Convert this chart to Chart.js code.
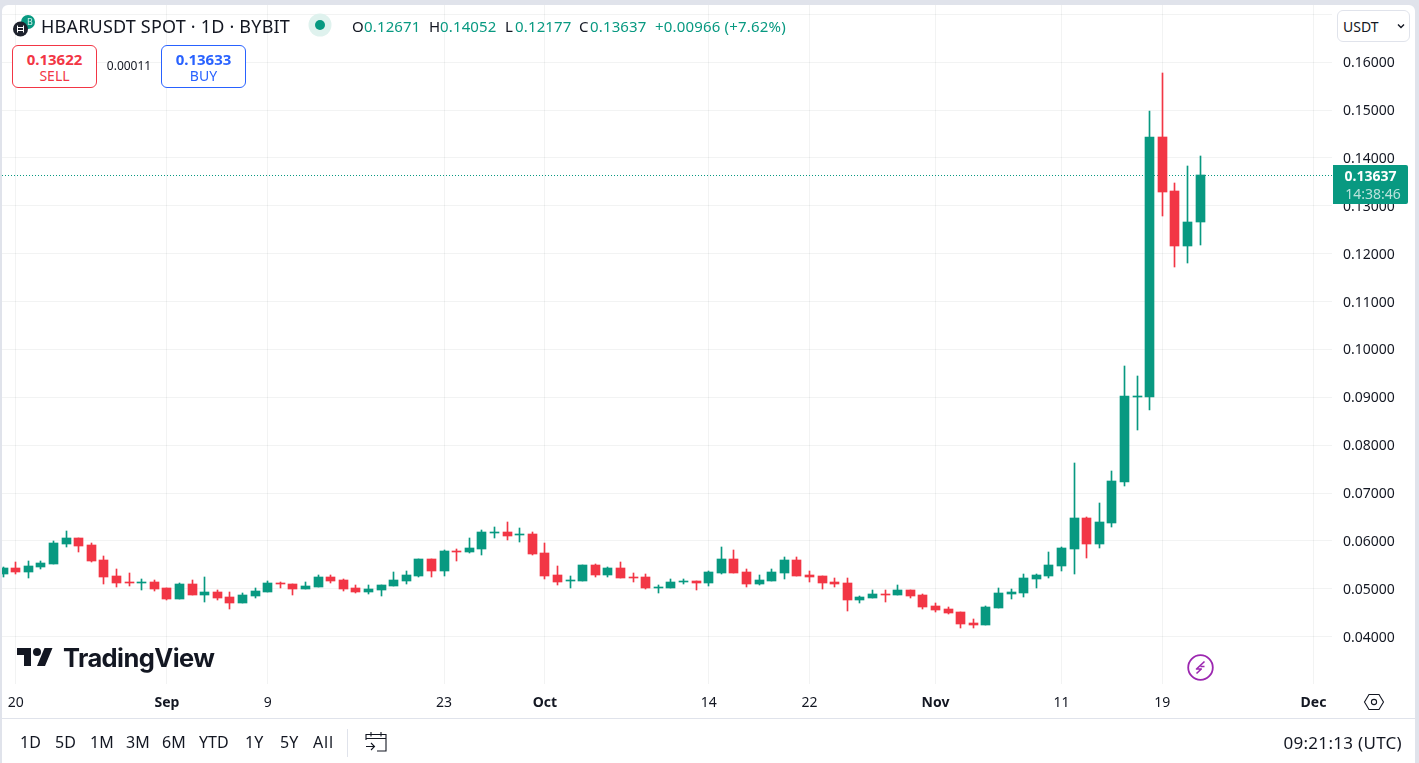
<!DOCTYPE html>
<html>
<head>
<meta charset="utf-8">
<title>HBARUSDT</title>
<script src="https://cdn.jsdelivr.net/npm/chart.js@4"></script>
<style>
html,body{margin:0;padding:0;width:1419px;height:763px;overflow:hidden;background:#e0e3eb;font-family:"Noto Sans",sans-serif;color:#131722}
#panel{position:absolute;left:2px;top:5px;width:1413px;height:758px;background:#fff;border-radius:6px 6px 0 0}
#c{position:absolute;left:0;top:0;width:1419px;height:763px}
.t{position:absolute;white-space:nowrap;transform:translateY(-50%);line-height:1}
.g{color:#089981}
.box{position:absolute;top:45px;width:83px;height:41px;border-radius:6px;background:#fff}
.c{transform:translate(-50%,-50%)}
svg{position:absolute;overflow:visible}
</style>
</head>
<body>
<div id="panel"></div>
<canvas id="c" width="1419" height="763"></canvas>

<!-- header -->
<svg style="left:0;top:0" width="60" height="50">
  <circle cx="28" cy="22" r="7" fill="#089981"/>
  <text x="30" y="25" font-size="9" fill="#cfeee7" text-anchor="middle" font-family="Noto Sans">B</text>
  <circle cx="20.5" cy="29" r="7.5" fill="#1e222d"/>
  <path d="M17.5 25.5v7M23.5 25.5v7M17.5 27.5h6M17.5 30.5h6" stroke="#fff" stroke-width="1" fill="none"/>
</svg>
<div class="t" style="left:41px;top:26px;font-size:18px;letter-spacing:.2px">HBARUSDT SPOT · 1D · BYBIT</div>
<svg style="left:0;top:0" width="340" height="40">
  <circle cx="320" cy="25" r="11.5" fill="#dff2ee"/>
  <circle cx="320" cy="25" r="5" fill="#089981"/>
</svg>
<div class="t" style="left:352px;top:26px;font-size:15px">O</div><div class="t g" style="left:364px;top:26px;font-size:15px;letter-spacing:.15px">0.12671</div>
<div class="t" style="left:429px;top:26px;font-size:15px">H</div><div class="t g" style="left:440px;top:26px;font-size:15px;letter-spacing:.15px">0.14052</div>
<div class="t" style="left:505px;top:26px;font-size:15px">L</div><div class="t g" style="left:515px;top:26px;font-size:15px;letter-spacing:.15px">0.12177</div>
<div class="t" style="left:579px;top:26px;font-size:15px">C</div><div class="t g" style="left:590px;top:26px;font-size:15px;letter-spacing:.15px">0.13637</div>
<div class="t g" style="left:655px;top:26px;font-size:15px;letter-spacing:.18px">+0.00966 (+7.62%)</div>

<div class="box" style="left:12px;border:1px solid #f23645"></div>
<div class="t c" style="left:54.5px;top:59px;font-size:15px;font-weight:700;color:#f23645">0.13622</div>
<div class="t c" style="left:54.5px;top:76px;font-size:14px;color:#f23645">SELL</div>
<div class="t c" style="left:129px;top:66px;font-size:12px">0.00011</div>
<div class="box" style="left:161px;border:1px solid #2962ff"></div>
<div class="t c" style="left:203.5px;top:59px;font-size:15px;font-weight:700;color:#2962ff">0.13633</div>
<div class="t c" style="left:203.5px;top:76px;font-size:14px;color:#2962ff">BUY</div>

<!-- currency button -->
<div style="position:absolute;left:1337px;top:10px;width:71px;height:30px;border:1px solid #e0e3eb;border-radius:6px;background:#fff"></div>
<div class="t" style="left:1343px;top:26.5px;font-size:14px">USDT</div>
<svg style="left:1397px;top:23px" width="8" height="6"><path d="M1 1.5l3 3 3-3" stroke="#131722" stroke-width="1.4" fill="none"/></svg>

<!-- watermark logo -->
<svg style="left:17px;top:644px" width="36" height="28" viewBox="0 0 36 28"><path d="M14 22H7V11H0V4h14v18zM28 22h-8l7.5-18h8L28 22z" fill="#131722"/><circle cx="20" cy="8" r="4" fill="#131722"/></svg>
<div class="t" style="left:63px;top:658px;font-size:25.5px;font-weight:700;font-family:Inter,sans-serif;letter-spacing:-.6px">TradingView</div>

<!-- flash icon -->
<svg style="left:1187px;top:654px" width="27" height="27">
  <circle cx="13.5" cy="13.5" r="12.3" fill="#fff" stroke="#9c27b0" stroke-width="1.8"/>
  <path d="M17.5 7.5L9.5 15h4.8L9.5 19.5M17.5 12.5h-4" stroke="#9c27b0" stroke-width="1.6" fill="none" stroke-linejoin="round"/>
</svg>

<!-- axis settings hexagon -->
<svg style="left:1364px;top:693px" width="20" height="18">
  <path d="M5 1.5h10l4.5 7.5-4.5 7.5H5L.5 9z" fill="none" stroke="#131722" stroke-width="1.1"/>
  <circle cx="10" cy="9" r="2.6" fill="none" stroke="#131722" stroke-width="1.1"/>
</svg>

<!-- bottom toolbar -->
<div style="position:absolute;left:2px;top:718px;width:1413px;height:1px;background:#e0e3eb"></div>
<div class="t" style="left:20px;top:742px;font-size:16px">1D</div>
<div class="t" style="left:55px;top:742px;font-size:16px">5D</div>
<div class="t" style="left:90px;top:742px;font-size:16px">1M</div>
<div class="t" style="left:126px;top:742px;font-size:16px">3M</div>
<div class="t" style="left:162px;top:742px;font-size:16px">6M</div>
<div class="t" style="left:199px;top:742px;font-size:16px">YTD</div>
<div class="t" style="left:245px;top:742px;font-size:16px">1Y</div>
<div class="t" style="left:280px;top:742px;font-size:16px">5Y</div>
<div class="t" style="left:313px;top:742px;font-size:16px;letter-spacing:.8px">All</div>
<div style="position:absolute;left:347px;top:729px;width:1px;height:28px;background:#e0e3eb"></div>
<svg style="left:364px;top:729px" width="25" height="24">
  <path d="M2 11V5.5h20V22H13M2 9.5h20M7 3v4.5M17 3v4.5M2 17.5h8M7 14l3.5 3.5L7 21" fill="none" stroke="#131722" stroke-width="1.1"/>
</svg>
<div class="t" style="right:17px;top:742px;font-size:17px;letter-spacing:.3px">09:21:13 (UTC)</div>

<script>
// Daily candles, 19 Aug – 22 Nov (day 0 = 20 Aug)
const firstDay = -1;
const opens = [.05310,.05435,.05351,.05456,.05518,.05936,.06062,.05916,.05602,.05268,.05142,.05121,.05142,
.05017,.04787,.05100,.04871,.04933,.04829,.04703,.04850,.04933,.05121,.05100,.04996,.05038,.05247,.05184,.05017,.04933,.04975,.05059,.05163,.05268,.05623,.05372,.05790,.05769,.05832,.06166,.06187,.06124,.06145,
.05748,.05289,.05163,.05163,.05498,.05289,.05435,.05247,.05247,.05017,.05017,.05142,.05163,.05121,.05330,.05623,.05351,.05100,.05163,.05330,.05602,.05289,.05268,.05142,.05121,.04766,.04808,.04891,.04871,.04975,.04871,
.04641,.04578,.04515,.04285,.04244,.04599,.04891,.04912,.05205,.05268,.05477,.05830,.06478,.05935,.06373,.07230,.09007,.09004,.14438,.13309,.12160,.12671];
const highs = [.05456,.05560,.05581,.05581,.05999,.06208,.06062,.05957,.05686,.05414,.05330,.05205,.05184,
.05017,.05121,.05184,.05247,.04975,.04933,.04912,.05017,.05163,.05142,.05100,.05142,.05289,.05289,.05205,.05080,.05080,.05080,.05351,.05372,.05623,.05623,.05811,.05832,.06062,.06229,.06292,.06396,.06271,.06187,
.05957,.05477,.05268,.05498,.05519,.05456,.05560,.05330,.05309,.05080,.05205,.05205,.05163,.05372,.05874,.05811,.05414,.05289,.05414,.05665,.05665,.05372,.05268,.05226,.05226,.04850,.04975,.04975,.05080,.04975,.04891,
.04703,.04620,.04515,.04369,.04641,.05017,.04996,.05309,.05309,.05769,.05874,.07627,.06499,.06791,.07460,.09655,.09446,.14981,.15775,.13476,.13832,.14052];
const lows = [.05247,.05310,.05226,.05414,.05518,.05874,.05769,.05560,.05100,.05038,.05059,.04975,.04954,
.04766,.04787,.04871,.04724,.04766,.04578,.04703,.04808,.04933,.05017,.04871,.04996,.05038,.05121,.04954,.04912,.04891,.04850,.05059,.05100,.05247,.05247,.05268,.05581,.05748,.05707,.06062,.06020,.05978,.05707,
.05205,.05080,.05017,.05163,.05247,.05247,.05226,.05142,.04996,.04912,.05017,.05100,.04975,.05059,.05309,.05330,.05038,.05080,.05163,.05205,.05268,.05142,.04996,.05038,.04536,.04703,.04808,.04724,.04871,.04808,.04578,
.04515,.04473,.04181,.04181,.04244,.04599,.04787,.04829,.05017,.05226,.05372,.05307,.05642,.05851,.06290,.07147,.08317,.08736,.12787,.11721,.11804,.12177];
const closes = [.05435,.05351,.05477,.05539,.05957,.06062,.05895,.05581,.05247,.05121,.05121,.05142,.04996,
.04787,.05100,.04871,.04933,.04808,.04703,.04871,.04954,.05121,.05100,.04996,.05059,.05247,.05163,.04996,.04933,.04996,.05080,.05184,.05289,.05623,.05372,.05790,.05769,.05853,.06187,.06187,.06104,.06145,.05727,
.05268,.05142,.05184,.05498,.05289,.05435,.05226,.05226,.05017,.05038,.05142,.05163,.05121,.05351,.05623,.05330,.05100,.05184,.05351,.05602,.05268,.05247,.05121,.05100,.04766,.04829,.04891,.04871,.04975,.04850,.04620,
.04557,.04494,.04264,.04244,.04620,.04912,.04933,.05226,.05289,.05498,.05853,.06478,.05935,.06394,.07251,.09028,.09028,.14438,.13288,.12160,.12671,.13637];

const tickDays   = [0,12,20,34,42,55,63,73,83,91,103];
const tickLabels = ['20','Sep','9','23','Oct','14','22','Nov','11','19','Dec'];
const monthLabels = ['Sep','Oct','Nov','Dec'];
const priceTicks = [.04,.05,.06,.07,.08,.09,.10,.11,.12,.13,.14,.15,.16,.17];
const lastPrice = 0.13637;
const lastPriceLabel = '0.13637';
const countdownLabel = '14:38:46';

const UP = '#089981', DOWN = '#f23645';
const FONT = '"Noto Sans",sans-serif';
const colors = closes.map((c,i)=> c>=opens[i] ? UP : DOWN);
const xs = closes.map((_,i)=> firstDay+i);

const crisp = {
  id:'crisp',
  afterDatasetsUpdate(chart){
    chart.data.datasets.forEach((ds,i)=>{
      chart.getDatasetMeta(i).data.forEach(el=>{
        el.x = Math.floor(el.x)+.5;
        let top = Math.round(Math.min(el.y,el.base)), bot = Math.round(Math.max(el.y,el.base));
        if(bot-top<1) bot = top+1;
        el.y = top; el.base = bot;
      });
    });
  }
};
const lastPriceMark = {
  id:'lastPriceMark',
  beforeDatasetsDraw(chart){
    const {ctx,chartArea:a,scales:{y}} = chart;
    const py = Math.floor(y.getPixelForValue(lastPrice))+.5;
    ctx.save();
    ctx.strokeStyle = UP; ctx.lineWidth = 1; ctx.setLineDash([1,2]);
    ctx.beginPath(); ctx.moveTo(a.left,py); ctx.lineTo(a.right,py); ctx.stroke();
    ctx.restore();
  },
  afterDraw(chart){
    const {ctx,chartArea:a,scales:{y}} = chart;
    const py = y.getPixelForValue(lastPrice);
    const top = Math.round(py-10);
    ctx.save();
    ctx.fillStyle = UP;
    ctx.beginPath(); ctx.roundRect(a.right+1,top,75,39,[0,2,2,0]); ctx.fill();
    ctx.textBaseline = 'middle'; ctx.textAlign = 'center';
    ctx.fillStyle = '#fff'; ctx.font = '700 14px '+FONT;
    ctx.fillText(lastPriceLabel,a.right+38.5,top+12);
    ctx.fillStyle = 'rgba(255,255,255,.72)'; ctx.font = '14px '+FONT;
    ctx.fillText(countdownLabel,a.right+41,top+30);
    ctx.restore();
  }
};

new Chart(document.getElementById('c'),{
  type:'bar',
  plugins:[crisp,lastPriceMark],
  data:{datasets:[
    {label:'wick',grouped:false,order:2,barThickness:1,backgroundColor:colors,
     data:xs.map((x,i)=>({x,y:[lows[i],highs[i]]}))},
    {label:'body',grouped:false,order:1,barThickness:9,backgroundColor:colors,
     data:xs.map((x,i)=>({x,y:[opens[i],closes[i]]}))}
  ]},
  options:{
    responsive:false,animation:false,devicePixelRatio:1,
    layout:{padding:{left:2,top:5,right:4,bottom:45}},
    plugins:{legend:{display:false},tooltip:{enabled:false},title:{display:false}},
    scales:{
      x:{type:'linear',offset:false,min:-1.087,max:104.47,
        grid:{offset:false,color:'rgba(42,46,57,.06)',drawTicks:false},border:{display:false},
        afterBuildTicks(s){s.ticks = tickDays.map(value=>({value}));},
        afterFit(s){s.height = 34;s.paddingLeft = 0;s.paddingRight = 0;},
        ticks:{autoSkip:false,maxRotation:0,minRotation:0,padding:11,color:'#131722',
          callback:v=>tickLabels[tickDays.indexOf(v)],
          font:ctx=>({family:FONT,size:14,weight:monthLabels.includes(tickLabels[ctx.index])?'700':'400'})}
      },
      y:{position:'right',min:.03012,max:.17196,
        grid:{color:'rgba(42,46,57,.06)',drawTicks:false},border:{display:false},
        afterBuildTicks(s){s.ticks = priceTicks.map(value=>({value}));},
        afterFit(s){s.width = 83;s.paddingTop = 0;s.paddingBottom = 0;},
        ticks:{autoSkip:false,padding:11,labelOffset:1,color:'#131722',
          callback:v=>v>.165?'':v.toFixed(5),
          font:{family:FONT,size:14}}
      }
    }
  }
});
</script>
</body>
</html>
